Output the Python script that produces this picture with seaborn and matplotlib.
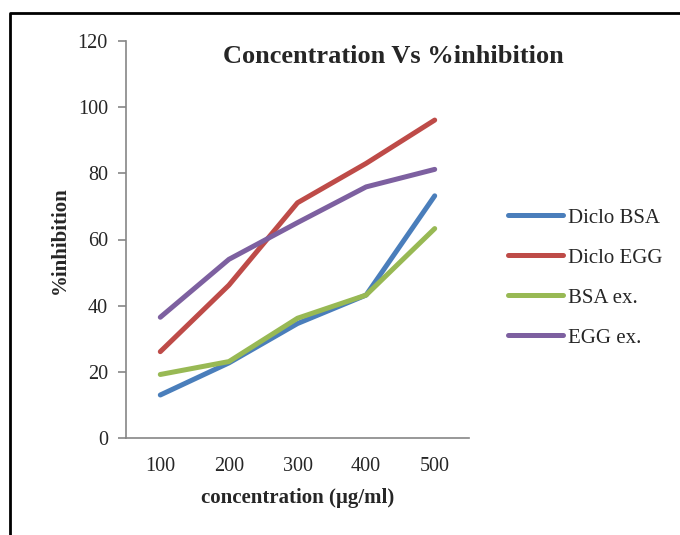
import matplotlib
matplotlib.use("Agg")
import matplotlib.pyplot as plt
import matplotlib.lines as mlines
import seaborn as sns
import pandas as pd

concentrations = ["100", "200", "300", "400", "500"]
diclo_bsa = [13.0, 22.7, 34.6, 43.2, 73.2]
diclo_egg = [26.1, 46.2, 71.1, 83.0, 96.1]
bsa_ex = [19.2, 23.1, 36.2, 43.2, 63.3]
egg_ex = [36.5, 54.0, 65.1, 75.9, 81.2]
series_names = ["Diclo BSA", "Diclo EGG", "BSA ex.", "EGG ex."]
colors = ["#4A7EBB", "#BE4B48", "#98B954", "#7D60A0"]

rows = []
for name, vals in zip(series_names, [diclo_bsa, diclo_egg, bsa_ex, egg_ex]):
    for i, (c, v) in enumerate(zip(concentrations, vals)):
        rows.append({"pos": i, "conc": c, "value": v, "series": name})
df = pd.DataFrame(rows)

sns.set_style("white")
plt.rcParams["font.family"] = ["Liberation Serif", "DejaVu Serif"]

fig = plt.figure(figsize=(6.8, 5.35), dpi=100)
ax = fig.add_axes([126/680, 1-438/535, (469-126)/680, (438-41)/535])

sns.lineplot(data=df, x="pos", y="value", hue="series", hue_order=series_names,
             palette=colors, linewidth=3.6, ax=ax, legend=False,
             solid_capstyle="round", solid_joinstyle="round")

ax.set_xlim(-0.5, 4.5)
ax.set_ylim(0, 120)
ax.set_yticks(range(0, 121, 20))
ax.set_xticks(range(len(concentrations)))
ax.set_xticklabels(concentrations)
for s in ["top", "right"]:
    ax.spines[s].set_visible(False)
for s in ["left", "bottom"]:
    ax.spines[s].set_color("#868686")
    ax.spines[s].set_linewidth(1.2)
ax.tick_params(axis="y", which="major", left=True, length=6, width=1.2,
               color="#868686", labelsize=14.5, pad=7)
ax.tick_params(axis="x", which="major", bottom=False, labelsize=14.5, pad=10)

ax.set_xlabel("concentration (µg/ml)", fontsize=15, fontweight="bold")
ax.set_ylabel("%inhibition", fontsize=15, fontweight="bold")
ax.xaxis.set_label_coords((298-126)/343, (438-488)/397)
ax.yaxis.set_label_coords((70-126)/343, (438-240)/397)

fig.text(393.5/680, 1-57/535, "Concentration Vs %inhibition", fontsize=19,
         fontweight="bold", ha="center", va="center")

handles = [mlines.Line2D([], [], color=c, linewidth=3.6, solid_capstyle="round")
           for c in colors]
fig.legend(handles, series_names, loc="upper left",
           bbox_to_anchor=(508/680, 1-208/535), frameon=False,
           fontsize=15, handlelength=2.65, handletextpad=0.25,
           labelspacing=0.98, borderpad=0, borderaxespad=0)

# outer border of the chart area
fig.add_artist(mlines.Line2D([10/680, 10/680, 1.0], [0.0, 1-12.5/535, 1-12.5/535],
                             transform=fig.transFigure, color="black", linewidth=2))

fig.savefig("out.png", dpi=100)
